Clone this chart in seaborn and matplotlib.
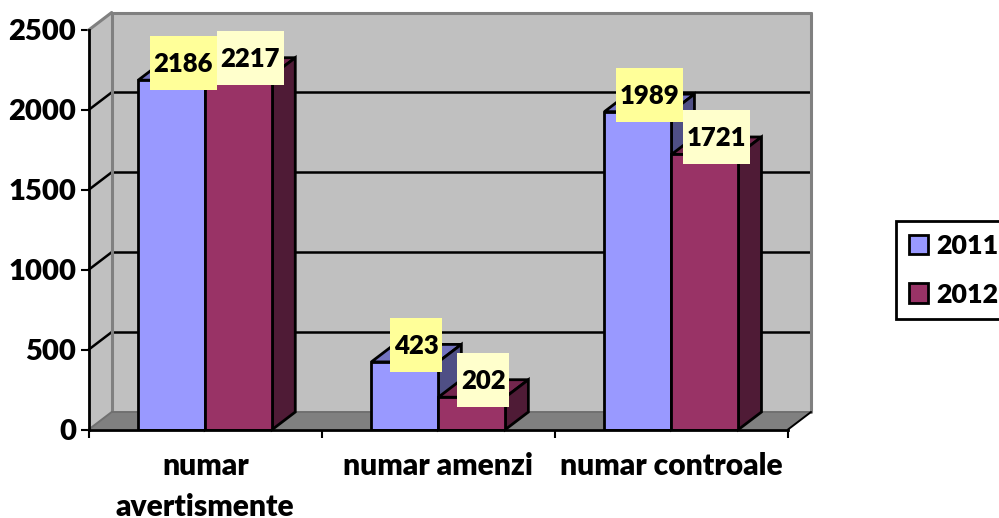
import matplotlib
matplotlib.use("Agg")
import matplotlib.pyplot as plt
import seaborn as sns
import pandas as pd
from matplotlib.patches import Polygon, Rectangle
from matplotlib.lines import Line2D
from matplotlib.transforms import IdentityTransform

categories = ["numar\navertismente", "numar amenzi", "numar controale"]
values_2011 = [2186, 423, 1989]
values_2012 = [2217, 202, 1721]
years = ["2011", "2012"]
yticks = [0, 500, 1000, 1500, 2000, 2500]

front_colors = ["#9999FF", "#993366"]
top_colors = ["#7373C0", "#73264D"]
side_colors = ["#4F4F85", "#4F1B36"]
label_colors = ["#FFFF99", "#FFFFCC"]

DX, DY = 23, 17.5   # depth of the fake 3d, in pixels
W, H = 999, 518

df = pd.DataFrame({
    "categorie": categories * 2,
    "valoare": values_2011 + values_2012,
    "an": [years[0]] * 3 + [years[1]] * 3,
})

sns.set_theme(style="white")
plt.rcParams["font.family"] = ["Lato", "DejaVu Sans"]
WEIGHT = 800
FS = 18.5
FS_AXIS = 21
FS_XLABEL = 21.6
FS_LEGEND = 19.3

fig = plt.figure(figsize=(W / 100, H / 100), dpi=100)
ax = fig.add_axes([88.7 / W, 1 - 429.5 / H, 699.3 / W, 399.5 / H])
ax.patch.set_visible(False)

sns.barplot(
    data=df, x="categorie", y="valoare", hue="an", ax=ax,
    palette=front_colors, saturation=1, width=0.575, gap=0,
    edgecolor="black", linewidth=2, legend=False,
)
ax.set_xlim(-0.5, 2.5)
ax.set_ylim(0, 2500)
ax.set_xlabel("")
ax.set_ylabel("")


def px(x, y, back=False):
    p = ax.transData.transform((x, y))
    return (p[0] + DX, p[1] + DY) if back else (p[0], p[1])


def poly(points, color, edge="none", lw=0, z=1):
    ax.add_artist(Polygon(points, closed=True, facecolor=color, edgecolor=edge, linewidth=lw,
                          transform=IdentityTransform(), clip_on=False, zorder=z, joinstyle="miter"))


def line(p1, p2, color="black", lw=2, z=1.5):
    ax.add_artist(Line2D([p1[0], p2[0]], [p1[1], p2[1]], color=color, linewidth=lw,
                         transform=IdentityTransform(), clip_on=False, zorder=z))


# parois
x0, x1 = -0.5, 2.5
poly([px(x0, 0, True), px(x1, 0, True), px(x1, 2500, True), px(x0, 2500, True)], "#C0C0C0", z=0.5)
poly([px(x0, 0), px(x0, 0, True), px(x0, 2500, True), px(x0, 2500)], "#C0C0C0", z=0.5)
poly([px(x0, 0), px(x1, 0), px(x1, 0, True), px(x0, 0, True)], "#808080", z=0.6)

for v in yticks[1:-1]:
    line(px(x0, v), px(x0, v, True), lw=1.8)
    line(px(x0, v, True), px(x1, v, True), lw=1.8)

line(px(x0, 2500), px(x0, 2500, True), "#808080", 2.2, 1.6)
line(px(x0, 2500, True), px(x1, 2500, True), "#808080", 2.2, 1.6)
line(px(x1, 2500, True), px(x1, 0, True), "#808080", 2.2, 1.6)
line(px(x0, 0, True), px(x0, 2500, True), "#808080", 2.2, 1.6)
line(px(x0, 0, True), px(x1, 0, True), "#707070", 1.4, 1.6)
line(px(x0, 0), px(x0, 0, True), "#707070", 1.4, 1.6)
line(px(x1, 0), px(x1, 0, True), "black", 1.4, 1.6)

# barres : faces avant de seaborn, dessus et cote ajoutes
for i, container in enumerate(ax.containers):
    for bar, val in zip(container.patches, [values_2011, values_2012][i]):
        l, r = bar.get_x(), bar.get_x() + bar.get_width()
        bar.set_zorder(3 + 2 * i + 1)
        poly([px(l, val), px(r, val), px(r, val, True), px(l, val, True)],
             top_colors[i], "black", 2, 3 + 2 * i)
        poly([px(r, 0), px(r, 0, True), px(r, val, True), px(r, val)],
             side_colors[i], "black", 2, 3 + 2 * i)

# etiquettes de valeurs
for i, container in enumerate(ax.containers):
    for bar, val in zip(container.patches, [values_2011, values_2012][i]):
        cx, cy = px(bar.get_x() + bar.get_width() / 2, val)
        cx, cy = cx + 11.5, cy + 17
        bw = len(str(val)) * 14.7 + 8
        ax.add_artist(Rectangle((cx - bw / 2, cy - 27), bw, 54, facecolor=label_colors[i], edgecolor="none",
                                transform=IdentityTransform(), clip_on=False, zorder=8 + i))
        ax.text(cx, cy + 1, str(val), ha="center", va="center_baseline", fontsize=FS, fontweight=WEIGHT,
                color="black", transform=IdentityTransform(), zorder=8.5 + i)

# axes
sns.despine(ax=ax, top=True, right=True)
for s in ["left", "bottom"]:
    ax.spines[s].set_color("black")
    ax.spines[s].set_linewidth(2)
    ax.spines[s].set_zorder(7)
ax.set_yticks(yticks)
ax.set_yticklabels([str(v) for v in yticks], fontsize=FS_AXIS, fontweight=WEIGHT, color="black")
ax.tick_params(axis="y", length=6, width=1.5, color="black", pad=3, left=True)
ax.set_xticks([-0.5, 0.5, 1.5, 2.5])
ax.set_xticklabels([])
ax.tick_params(axis="x", which="major", length=6, width=1.5, color="black", bottom=True)
ax.set_xticks([0, 1, 2], minor=True)
ax.set_xticklabels(categories, minor=True, fontsize=FS_XLABEL, fontweight=WEIGHT, color="black", linespacing=1.58)
ax.tick_params(axis="x", which="minor", length=0, pad=16)

# legende
handles = [c.patches[0] for c in ax.containers]
leg = ax.legend(handles, years, loc="upper left", bbox_to_anchor=(896 / W, 1 - 221 / H),
                bbox_transform=fig.transFigure, borderaxespad=0, fontsize=FS_LEGEND, frameon=True, fancybox=False,
                edgecolor="black", framealpha=1, borderpad=0.48, labelspacing=0.92,
                handlelength=0.7, handleheight=0.74, handletextpad=0.34)
leg.get_frame().set_linewidth(2)
for t in leg.get_texts():
    t.set_fontweight(WEIGHT)
    t.set_color("black")
leg.set_zorder(20)

fig.savefig("out.png", dpi=100)
